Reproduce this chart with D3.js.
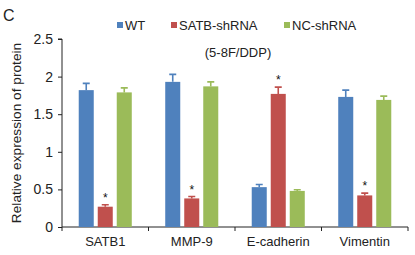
<!DOCTYPE html>
<html>
<head>
<meta charset="utf-8">
<script src="https://cdn.jsdelivr.net/npm/d3@7"></script>
<style>
body { margin: 0; background: #fff; }
svg { display: block; font-family: "Liberation Sans", Arial, sans-serif; }
</style>
</head>
<body>
<div id="chart"></div>
<script>
let w = 415
let h = 255
let margin = { top: 39, right: 7, bottom: 28, left: 62 }

let categories = ["SATB1", "MMP-9", "E-cadherin", "Vimentin"]
let series = ["WT", "SATB-shRNA", "NC-shRNA"]
let colors = ["#4F81BD", "#C0504D", "#9BBB59"]
let wtValues = [1.82, 1.93, 0.53, 1.73]
let wtErrors = [0.09, 0.10, 0.035, 0.09]
let satbValues = [0.27, 0.38, 1.77, 0.42]
let satbErrors = [0.025, 0.025, 0.09, 0.03]
let ncValues = [1.79, 1.87, 0.48, 1.69]
let ncErrors = [0.06, 0.06, 0.015, 0.05]
let starred = [[false, true, false], [false, true, false], [false, true, false], [false, true, false]]
let yTicks = [0, 0.5, 1, 1.5, 2, 2.5]

let valueSets = [wtValues, satbValues, ncValues]
let errorSets = [wtErrors, satbErrors, ncErrors]

let data = []
categories.forEach((c, i) => {
	series.forEach((s, j) => {
		data.push({ cat: c, ser: s, v: valueSets[j][i], e: errorSets[j][i], star: starred[i][j], color: colors[j] })
	})
})

let svg = d3.select("#chart").append("svg")
	.attr("width", w)
	.attr("height", h)

let x0 = d3.scaleBand()
	.domain(categories)
	.range([margin.left, w - margin.right])
	.padding(0)

let x1 = d3.scaleBand()
	.domain(series)
	.range([0, x0.bandwidth()])
	.paddingInner(0.21)
	.paddingOuter(0.88)

let y = d3.scaleLinear()
	.domain([0, 2.5])
	.range([h - margin.bottom, margin.top])

// Panel letter
svg.append("text")
	.attr("x", 3)
	.attr("y", 21)
	.attr("font-size", 16)
	.attr("fill", "#222")
	.text("C")

// Y axis
let yAxis = d3.axisLeft(y)
	.tickValues(yTicks)
	.tickFormat(d => d)
	.tickSize(4)
	.tickPadding(5)

let gy = svg.append("g")
	.attr("transform", "translate(" + margin.left + ",0)")
	.call(yAxis)
gy.select(".domain").attr("stroke", "#222").attr("d", "M-4," + y(2.5) + "H0V" + y(0))
gy.selectAll("line").attr("stroke", "#222")
gy.selectAll("text").attr("font-size", 14).attr("fill", "#222").attr("font-family", "Liberation Sans, Arial, sans-serif")

// X axis
let xAxis = d3.axisBottom(x0).tickSize(0).tickPadding(10)
let gx = svg.append("g")
	.attr("transform", "translate(0," + y(0) + ")")
	.call(xAxis)
gx.select(".domain").attr("stroke", "#222").attr("d", "M" + margin.left + ",0H" + (w - margin.right))
gx.selectAll("text").attr("font-size", 13).attr("fill", "#222").attr("font-family", "Liberation Sans, Arial, sans-serif")

let boundaries = categories.map(c => x0(c)).concat([x0(categories[categories.length - 1]) + x0.bandwidth()])
gx.selectAll(".bound")
	.data(boundaries)
	.enter()
	.append("line")
	.attr("class", "bound")
	.attr("x1", d => d)
	.attr("x2", d => d)
	.attr("y1", 0)
	.attr("y2", 4)
	.attr("stroke", "#222")

// Bars
let groups = svg.append("g")
groups.selectAll("rect")
	.data(data)
	.enter()
	.append("rect")
	.attr("x", d => x0(d.cat) + x1(d.ser))
	.attr("y", d => y(d.v))
	.attr("width", x1.bandwidth())
	.attr("height", d => y(0) - y(d.v))
	.attr("fill", d => d.color)

// Error bars (upward only)
let errs = svg.append("g")
errs.selectAll("path")
	.data(data)
	.enter()
	.append("path")
	.attr("d", d => {
		let cx = x0(d.cat) + x1(d.ser) + x1.bandwidth() / 2
		let top = y(d.v + d.e)
		return "M" + cx + "," + y(d.v) + "V" + top + "M" + (cx - 3.5) + "," + top + "H" + (cx + 3.5)
	})
	.attr("stroke", d => d.color)
	.attr("stroke-width", 1.6)
	.attr("fill", "none")

// Stars
svg.append("g").selectAll("text")
	.data(data.filter(d => d.star))
	.enter()
	.append("text")
	.attr("x", d => x0(d.cat) + x1(d.ser) + x1.bandwidth() / 2)
	.attr("y", d => y(d.v + d.e) - 3)
	.attr("text-anchor", "middle")
	.attr("font-size", 12)
	.attr("fill", "#111")
	.text("*")

// Y title
svg.append("text")
	.attr("transform", "translate(21," + ((y(0) + y(2.5)) / 2) + ") rotate(-90)")
	.attr("text-anchor", "middle")
	.attr("font-size", 13.7)
	.attr("fill", "#222")
	.text("Relative expression of protein")

// Legend
let legendX = [117, 171, 284]
let legend = svg.append("g")
	.selectAll("g")
	.data(series)
	.enter()
	.append("g")
	.attr("transform", (d, i) => "translate(" + legendX[i] + ",25)")
legend.append("rect")
	.attr("x", 0)
	.attr("y", -3)
	.attr("width", 6)
	.attr("height", 6)
	.attr("fill", (d, i) => colors[i])
legend.append("text")
	.attr("x", 8)
	.attr("y", 5)
	.attr("font-size", 13)
	.attr("fill", "#222")
	.text(d => d)

svg.append("text")
	.attr("x", 238)
	.attr("y", 57)
	.attr("text-anchor", "middle")
	.attr("font-size", 13)
	.attr("fill", "#222")
	.text("(5-8F/DDP)")
</script>
</body>
</html>
